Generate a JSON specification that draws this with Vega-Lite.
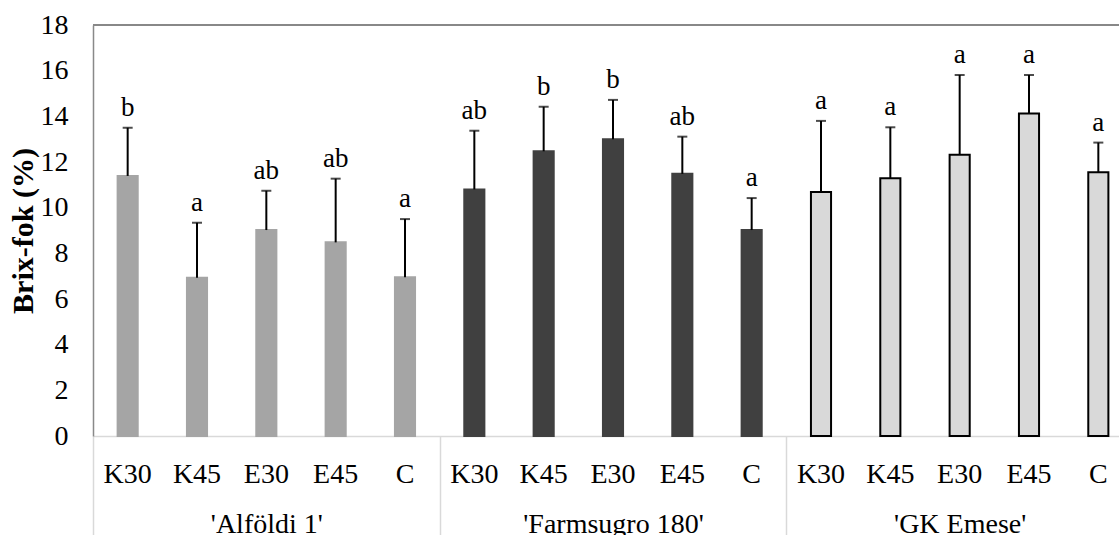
{
  "$schema": "https://vega.github.io/schema/vega-lite/v6.json",
  "width": 1026,
  "height": 411,
  "autosize": {"type": "none"},
  "padding": {"left": 93, "top": 25, "right": 0, "bottom": 99},
  "background": "white",
  "config": {"view": {"stroke": null}, "font": "Liberation Serif"},
  "data": {
    "values": [
      {"cultivar": "'Alföldi 1'", "treatment": "K30", "id": "A|K30", "mean": 11.39, "upper": 13.50, "letter": "b"},
      {"cultivar": "'Alföldi 1'", "treatment": "K45", "id": "A|K45", "mean": 6.93, "upper": 9.34, "letter": "a"},
      {"cultivar": "'Alföldi 1'", "treatment": "E30", "id": "A|E30", "mean": 9.02, "upper": 10.74, "letter": "ab"},
      {"cultivar": "'Alföldi 1'", "treatment": "E45", "id": "A|E45", "mean": 8.48, "upper": 11.27, "letter": "ab"},
      {"cultivar": "'Alföldi 1'", "treatment": "C", "id": "A|C", "mean": 6.95, "upper": 9.50, "letter": "a"},
      {"cultivar": "'Farmsugro 180'", "treatment": "K30", "id": "F|K30", "mean": 10.80, "upper": 13.37, "letter": "ab"},
      {"cultivar": "'Farmsugro 180'", "treatment": "K45", "id": "F|K45", "mean": 12.47, "upper": 14.42, "letter": "b"},
      {"cultivar": "'Farmsugro 180'", "treatment": "E30", "id": "F|E30", "mean": 13.00, "upper": 14.72, "letter": "b"},
      {"cultivar": "'Farmsugro 180'", "treatment": "E45", "id": "F|E45", "mean": 11.48, "upper": 13.11, "letter": "ab"},
      {"cultivar": "'Farmsugro 180'", "treatment": "C", "id": "F|C", "mean": 9.02, "upper": 10.42, "letter": "a"},
      {"cultivar": "'GK Emese'", "treatment": "K30", "id": "G|K30", "mean": 10.69, "upper": 13.80, "letter": "a"},
      {"cultivar": "'GK Emese'", "treatment": "K45", "id": "G|K45", "mean": 11.29, "upper": 13.52, "letter": "a"},
      {"cultivar": "'GK Emese'", "treatment": "E30", "id": "G|E30", "mean": 12.32, "upper": 15.81, "letter": "a"},
      {"cultivar": "'GK Emese'", "treatment": "E45", "id": "G|E45", "mean": 14.12, "upper": 15.81, "letter": "a"},
      {"cultivar": "'GK Emese'", "treatment": "C", "id": "G|C", "mean": 11.55, "upper": 12.85, "letter": "a"}
    ]
  },
  "layer": [
    {
      "layer": [
        {
          "mark": {"type": "bar", "strokeWidth": 2},
          "encoding": {
            "x": {
              "field": "id", "type": "nominal", "sort": null,
              "scale": {"range": [0, 1040], "paddingInner": 0.71, "paddingOuter": 0.355},
              "axis": {
                "orient": "bottom", "title": null, "ticks": false, "tickSize": 0,
                "labelExpr": "split(datum.label, '|')[1]", "labelAngle": 0,
                "labelPadding": 24, "labelFontSize": 28, "labelFont": "Liberation Serif",
                "labelColor": "black", "domainColor": "#d9d9d9", "domainWidth": 1.5
              }
            },
            "y": {
              "field": "mean", "type": "quantitative",
              "scale": {"domain": [0, 18], "nice": false},
              "axis": {
                "title": "Brix-fok (%)", "titleFont": "Liberation Serif", "titleFontSize": 30,
                "titleFontWeight": "bold", "titleColor": "black", "titlePadding": 2,
                "values": [0, 2, 4, 6, 8, 10, 12, 14, 16, 18], "grid": false, "ticks": false,
                "labelPadding": 25, "labelFontSize": 28, "labelFont": "Liberation Serif",
                "labelColor": "black", "domainColor": "#898989", "domainWidth": 1.5
              }
            },
            "fill": {
              "field": "cultivar", "type": "nominal",
              "scale": {"domain": ["'Alföldi 1'", "'Farmsugro 180'", "'GK Emese'"], "range": ["#a5a5a5", "#404040", "#d9d9d9"]},
              "legend": null
            },
            "stroke": {
              "field": "cultivar", "type": "nominal",
              "scale": {"domain": ["'Alföldi 1'", "'Farmsugro 180'", "'GK Emese'"], "range": ["#a5a5a5", "#404040", "#000000"]},
              "legend": null
            }
          }
        },
        {
          "mark": {"type": "rule", "color": "black", "strokeWidth": 2},
          "encoding": {
            "x": {"field": "id", "type": "nominal", "sort": null},
            "y": {"field": "mean", "type": "quantitative"},
            "y2": {"field": "upper"}
          }
        },
        {
          "mark": {"type": "tick", "color": "black", "size": 10, "thickness": 2, "orient": "horizontal"},
          "encoding": {
            "x": {"field": "id", "type": "nominal", "sort": null},
            "y": {"field": "upper", "type": "quantitative"}
          }
        },
        {
          "mark": {"type": "text", "baseline": "bottom", "dy": -6, "fontSize": 27, "font": "Liberation Serif", "color": "black"},
          "encoding": {
            "x": {"field": "id", "type": "nominal", "sort": null},
            "y": {"field": "upper", "type": "quantitative"},
            "text": {"field": "letter"}
          }
        },
        {
          "mark": {"type": "rule", "color": "#898989", "strokeWidth": 1.5},
          "encoding": {"y": {"datum": 18}}
        }
      ]
    },
    {
      "mark": {"type": "point", "opacity": 0},
      "encoding": {
        "x": {
          "field": "cultivar", "type": "nominal", "sort": null,
          "scale": {"domain": ["'Alföldi 1'", "'Farmsugro 180'", "'GK Emese'"], "range": [0, 1040], "paddingInner": 0, "paddingOuter": 0},
          "axis": {
            "orient": "bottom", "title": null, "domain": false, "ticks": true,
            "tickBand": "extent", "tickSize": 110, "tickColor": "#d9d9d9", "tickWidth": 1.5,
            "labelAngle": 0, "labelPadding": -36, "labelFontSize": 28, "labelFont": "Liberation Serif",
            "labelColor": "black", "labelLimit": 0
          }
        },
        "y": {"field": "mean", "type": "quantitative"}
      }
    }
  ],
  "resolve": {"scale": {"x": "independent"}, "axis": {"x": "independent"}}
}
